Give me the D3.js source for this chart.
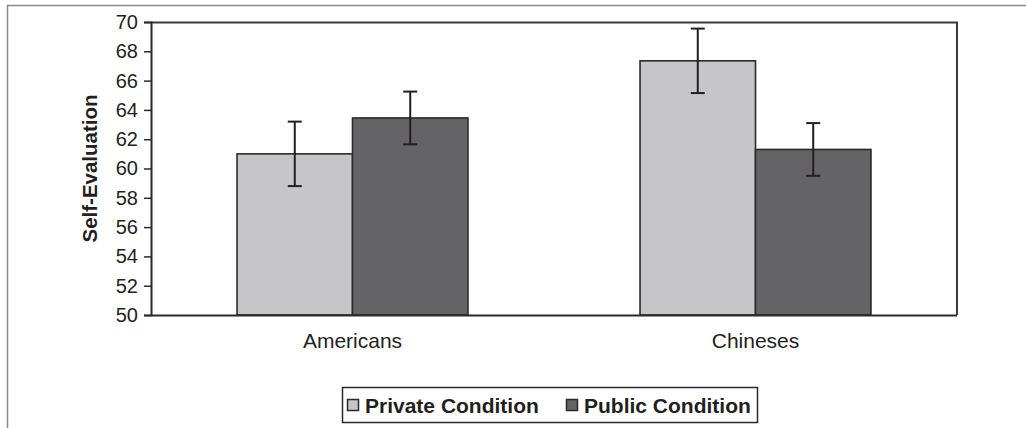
<!DOCTYPE html>
<html>
<head>
<meta charset="utf-8">
<script src="https://cdn.jsdelivr.net/npm/d3@7"></script>
<style>
  html, body { margin: 0; padding: 0; background: #fff; }
  svg { display: block; font-family: "Liberation Sans", Arial, Helvetica, sans-serif; }
</style>
</head>
<body>
<svg id="chart" width="1026" height="428"></svg>
<script>
// Self-evaluation means by culture and condition, with error bars
const groups = ["Americans", "Chineses"];
const seriesNames = ["Private Condition", "Public Condition"];
const privateMeans = [61.0, 67.35];
const publicMeans = [63.45, 61.3];
const privateErrors = [2.2, 2.2];
const publicErrors = [1.8, 1.8];
const yTicks = [50, 52, 54, 56, 58, 60, 62, 64, 66, 68, 70];

const fills = ["#c6c6c8", "#646366"];
const ink = "#231f20";

const rows = [];
groups.forEach((g, i) => {
  rows.push({ group: g, series: seriesNames[0], mean: privateMeans[i], err: privateErrors[i] });
  rows.push({ group: g, series: seriesNames[1], mean: publicMeans[i], err: publicErrors[i] });
});

const svg = d3.select("#chart");
const plot = { left: 151, right: 957, top: 22, bottom: 315 };

// Outer frame (top and left edges)
svg.append("path")
  .attr("d", `M7.5,428 V5.5 H1026`)
  .attr("fill", "none")
  .attr("stroke", "#8a8a8a")
  .attr("stroke-width", 1.5);

const x0 = d3.scaleBand()
  .domain(groups)
  .range([plot.left, plot.right])
  .paddingInner(0.427)
  .paddingOuter(0.2135);

const x1 = d3.scaleBand()
  .domain(seriesNames)
  .range([0, x0.bandwidth()])
  .padding(0);

const y = d3.scaleLinear()
  .domain([50, 70])
  .range([plot.bottom, plot.top]);

const color = d3.scaleOrdinal().domain(seriesNames).range(fills);

// Plot-area border (top and right)
svg.append("path")
  .attr("d", `M${plot.left},${plot.top + 0.5} H${plot.right} V${plot.bottom}`)
  .attr("fill", "none")
  .attr("stroke", "#3a3a3a")
  .attr("stroke-width", 2);

// Bars
svg.append("g")
  .selectAll("rect")
  .data(rows)
  .join("rect")
  .attr("x", d => x0(d.group) + x1(d.series))
  .attr("y", d => y(d.mean))
  .attr("width", x1.bandwidth())
  .attr("height", d => y(50) - y(d.mean))
  .attr("fill", d => color(d.series))
  .attr("stroke", "#2a2a2a")
  .attr("stroke-width", 1.6);

// Error bars
const eb = svg.append("g")
  .attr("stroke", ink)
  .attr("stroke-width", 2)
  .selectAll("g")
  .data(rows)
  .join("g")
  .attr("transform", d => `translate(${x0(d.group) + x1(d.series) + x1.bandwidth() / 2},0)`);
eb.append("line")
  .attr("y1", d => y(d.mean - d.err))
  .attr("y2", d => y(d.mean + d.err));
eb.append("line")
  .attr("x1", -7).attr("x2", 7)
  .attr("y1", d => y(d.mean + d.err))
  .attr("y2", d => y(d.mean + d.err));
eb.append("line")
  .attr("x1", -7).attr("x2", 7)
  .attr("y1", d => y(d.mean - d.err))
  .attr("y2", d => y(d.mean - d.err));

// Y axis
const yAxis = svg.append("g")
  .attr("transform", `translate(${plot.left},0)`)
  .call(d3.axisLeft(y).tickValues(yTicks).tickSize(7).tickPadding(6).tickFormat(d3.format("d")));
yAxis.select(".domain").attr("stroke", "#2a2a2a").attr("stroke-width", 2);
yAxis.selectAll(".tick line").attr("stroke", "#2a2a2a").attr("stroke-width", 1.5);
yAxis.selectAll(".tick text")
  .attr("font-size", 20)
  .attr("fill", ink)
  .attr("font-family", "Liberation Sans, Arial, sans-serif");

// X axis
const xAxis = svg.append("g")
  .attr("transform", `translate(0,${plot.bottom})`)
  .call(d3.axisBottom(x0).tickSize(0).tickPadding(18));
xAxis.select(".domain")
  .attr("d", `M${plot.left},0.5H${plot.right}`)
  .attr("stroke", "#2a2a2a")
  .attr("stroke-width", 2);
xAxis.selectAll(".tick text")
  .attr("font-size", 21)
  .attr("fill", ink)
  .attr("font-family", "Liberation Sans, Arial, sans-serif");

// Y axis title
svg.append("text")
  .attr("transform", `translate(97,${(plot.top + plot.bottom) / 2}) rotate(-90)`)
  .attr("text-anchor", "middle")
  .attr("font-size", 20.5)
  .attr("font-weight", "bold")
  .attr("fill", ink)
  .text("Self-Evaluation");

// Legend
const legend = svg.append("g");
legend.append("rect")
  .attr("x", 342.5).attr("y", 387.5)
  .attr("width", 415).attr("height", 35)
  .attr("fill", "#fff")
  .attr("stroke", "#2a2a2a")
  .attr("stroke-width", 1.5);
const legendX = d3.scaleOrdinal().domain(seriesNames).range([347, 566]);
const items = legend.selectAll("g.item")
  .data(seriesNames)
  .join("g")
  .attr("class", "item")
  .attr("transform", d => `translate(${legendX(d)},0)`);
items.append("rect")
  .attr("x", 0.5).attr("y", 399.5)
  .attr("width", 11).attr("height", 11)
  .attr("fill", d => color(d))
  .attr("stroke", "#2a2a2a")
  .attr("stroke-width", 1.5);
items.append("text")
  .attr("x", 18).attr("y", 412.5)
  .attr("font-size", 21)
  .attr("font-weight", "bold")
  .attr("fill", ink)
  .text(d => d);
</script>
</body>
</html>
